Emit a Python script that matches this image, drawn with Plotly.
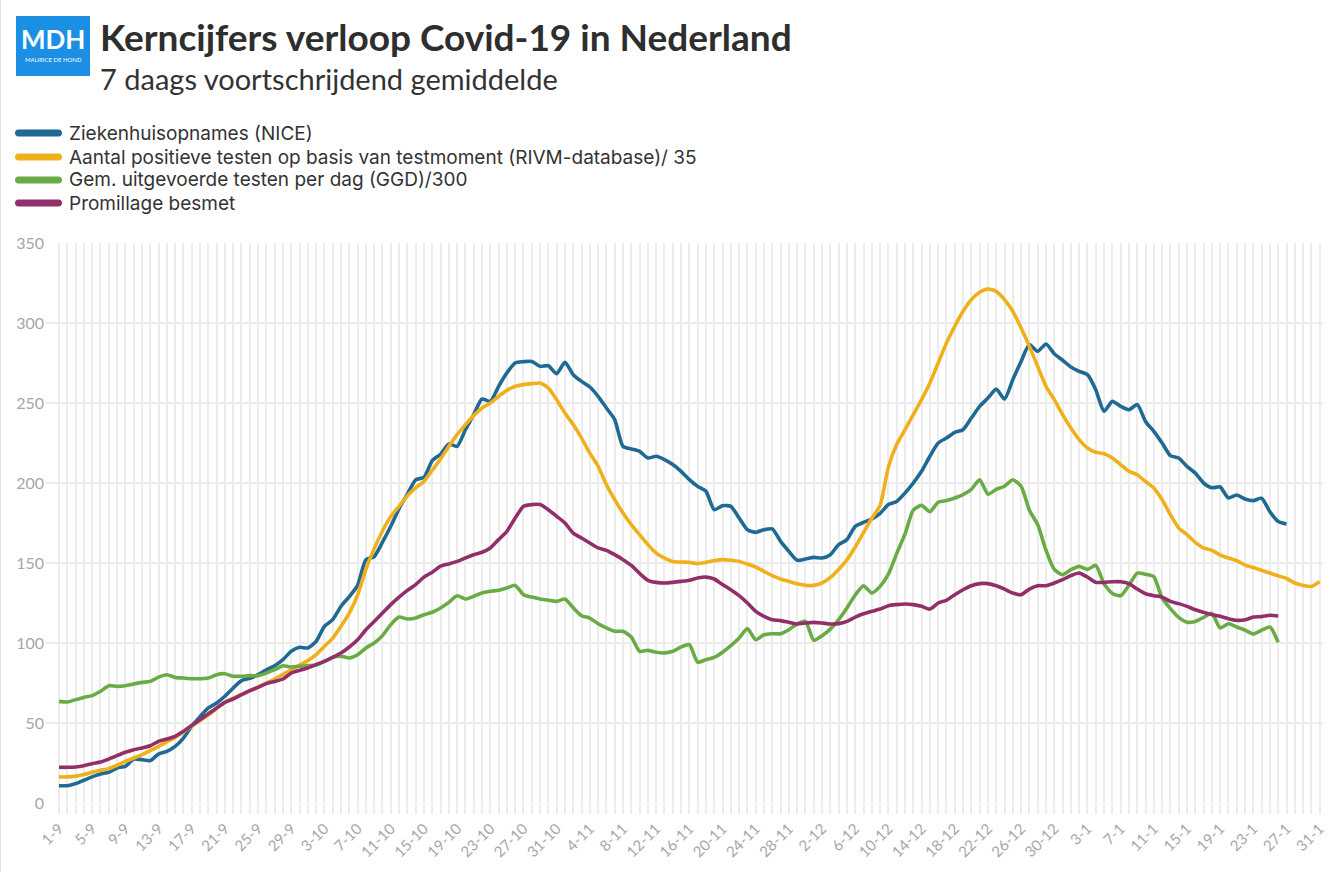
import datetime
import plotly.graph_objects as go

# ---------------- data ----------------
start = datetime.date(2020, 9, 1)
categories = [f"{(start + datetime.timedelta(days=i)).day}-{(start + datetime.timedelta(days=i)).month}" for i in range(153)]
tick_labels = [c if i % 4 == 0 else "" for i, c in enumerate(categories)]

ziekenhuis = [10.8, 10.8, 12.1, 14.2, 16.3, 18.1, 19.2, 21.9, 22.9, 27.5,
              27.1, 26.5, 30.6, 32.3, 35.4, 40.6, 48, 54, 59.4, 62.5,
              66.7, 71.9, 76.5, 78, 80.2, 83.3, 85.8, 89.6, 94.8, 97.3,
              96.9, 101, 110.4, 114.6, 123, 129, 136, 152, 154, 163,
              173, 184, 193, 202, 203.5, 214, 218, 224.4, 222.9, 233.3,
              242.7, 252.5, 251, 260.4, 268.8, 275, 275.8, 276, 272.9, 273.3,
              268.3, 275.4, 267.7, 263.5, 260, 254.2, 246.9, 239.6, 222.9, 221.3,
              219.8, 215.6, 216.7, 214.6, 211.5, 207.3, 202.1, 197.9, 194.8, 183.3,
              185.8, 185.4, 178.1, 170.8, 169.2, 170.8, 171.3, 163.5, 157.3, 151.7,
              152.5, 153.5, 153.1, 155.2, 161.5, 164.6, 172.9, 175.4, 177.5, 181,
              186.5, 188.5, 193.7, 200, 207.3, 216.7, 225, 228.1, 231.7, 233.3,
              240.6, 247.9, 253.1, 258.7, 252.5, 264.6, 276, 286.5, 282.3, 286.9,
              280.8, 276.7, 272.5, 269.8, 267.7, 258.3, 244.8, 251, 247.9, 245.8,
              249, 238.5, 232.3, 225, 217.1, 215.6, 210.4, 206.2, 200, 197,
              197.5, 190.6, 192.5, 190, 189, 190.5, 182, 176, 174.4]

positief = [16.3, 16.3, 16.8, 17.8, 19.2, 20.4, 21.5, 23.6, 26, 28.1,
            30.2, 32.7, 35.4, 38.2, 41, 44.4, 48, 51.5, 55, 59,
            63, 65.5, 67.7, 70.1, 72.5, 75, 77.5, 80.4, 83.3, 86.2,
            89, 92.7, 98, 103, 110.4, 118.7, 130, 146, 159, 170,
            179, 185.5, 192, 197, 201, 208, 215, 222.9, 230.2, 236.5,
            242.1, 246.9, 250, 254.2, 257.9, 260.4, 261.5, 262.1, 262.5, 259.4,
            252.1, 243.7, 236.5, 228.1, 218.7, 210.4, 199, 189.6, 181.2, 174,
            167.7, 161.5, 156.2, 153.1, 151, 150.6, 150.4, 149.6, 150.4, 151.5,
            152.1, 151.7, 151, 149.4, 147.5, 144.8, 142.1, 140, 138.5, 137,
            136, 136, 137.5, 141, 146, 152, 160, 169, 178, 186,
            210, 224, 233.3, 242.7, 252.1, 262.5, 275, 287.5, 297.9, 307.3,
            314.6, 319.2, 321.2, 319.8, 314.6, 307.3, 296.9, 285.4, 272.9, 260.4,
            252.1, 242.7, 234.4, 227.1, 221.9, 219.2, 218.3, 215.6, 211.5, 207.3,
            205.2, 201, 196.9, 189.6, 180.2, 171.9, 167.7, 162.9, 159.4, 157.9,
            155, 153.1, 151.5, 148.7, 147.2, 145.4, 143.7, 142, 140.3, 137.5,
            136, 135.4, 138.3]

testen = [63.5, 63.1, 64.6, 66, 67.1, 69.8, 73.3, 72.9, 73.3, 74.4,
          75.4, 76, 78.7, 80.2, 78.5, 78.1, 77.7, 77.7, 78.1, 80.2,
          80.8, 79.2, 79.2, 79.6, 79.6, 81.2, 83.3, 85.8, 85, 85.4,
          85.8, 86.2, 88.5, 91, 91.7, 90.6, 92.7, 96.9, 100, 104.6,
          111.5, 116.2, 115, 115.6, 117.7, 119.2, 121.9, 125.4, 129.5, 127.5,
          129.2, 131.3, 132.3, 133, 134.4, 136, 130.2, 128.7, 127.5, 126.7,
          126, 127.5, 122, 117, 115.6, 112, 109.4, 107.3, 107.3, 103.8,
          94.8, 95.4, 94.2, 93.8, 94.8, 97.5, 99, 88, 89.6, 91,
          94.2, 98.3, 103.1, 109, 102, 105.2, 105.8, 105.8, 108.3, 112,
          113.5, 101.7, 104.6, 108.7, 114.6, 121.9, 130, 135.8, 131.2, 135.4,
          143, 156, 168, 183, 186, 182, 188, 189, 190.6, 192.7,
          196, 202, 193, 196, 198, 202, 198, 183, 174, 158,
          146, 142.7, 145.8, 147.9, 146, 148.5, 137, 131, 129.5, 136,
          143.7, 143, 141.5, 128, 121.5, 116, 113, 113.5, 116, 118.5,
          109.4, 112, 110, 108, 105.6, 108, 110, 100.5]

promillage = [22.3, 22.3, 22.5, 23.3, 24.6, 25.6, 27.5, 29.6, 31.7, 33.3,
              34.4, 35.8, 38.5, 40, 41.7, 44.8, 48.5, 52, 55.8, 59.4,
              62.9, 65, 67.7, 70.2, 72.3, 74.6, 76, 77.5, 81.2, 82.9,
              84.4, 86.5, 88.5, 91, 93.7, 97.5, 102, 108.3, 113.5, 118.7,
              124, 128.7, 132.9, 136.5, 141.2, 144.2, 148, 149.4, 151, 153.1,
              155.2, 156.7, 159.4, 164.6, 169.8, 178.1, 185.4, 186.5, 186.5, 183.3,
              179.2, 175, 168.7, 165.6, 162.5, 159.4, 157.9, 155.2, 152.1, 148.5,
              143.5, 139.2, 137.9, 137.5, 137.9, 138.5, 139.2, 140.6, 141.2, 140,
              136.5, 133.3, 129.6, 125, 119.8, 116.7, 114.6, 114, 112.9, 111.9,
              112.5, 112.9, 112.5, 111.9, 112.1, 113.5, 116.2, 118.3, 119.8, 121.2,
              123.3, 124, 124.4, 124, 122.9, 121.2, 125, 126.7, 130.2, 133.3,
              135.8, 137.1, 137.1, 135.8, 133.7, 131.2, 130.2, 133.7, 135.8, 135.8,
              137.5, 139.6, 142.1, 143.7, 141.2, 137.9, 137.9, 138.3, 138.3, 137.1,
              133.7, 130.8, 129.6, 128.7, 126, 124.6, 122.9, 120.8, 119.2, 117.7,
              116.7, 115.2, 114.2, 114.5, 116.2, 116.5, 117.3, 116.9]

series_names = ["Ziekenhuisopnames (NICE)",
                "Aantal positieve testen op basis van testmoment (RIVM-database)/ 35",
                "Gem. uitgevoerde testen per dag (GGD)/300",
                "Promillage besmet"]
series_values = [ziekenhuis, positief, testen, promillage]
series_colors = ["#1f6993", "#f0b01c", "#6aab45", "#922f6a"]

y_ticks = [0, 50, 100, 150, 200, 250, 300, 350]

# ---------------- layout geometry (pixels) ----------------
W, H = 1341, 872
L, R, T, B = 45, 18, 243, 69
PW, PH = W - L - R, H - T - B


def px(x):
    return (x - L) / PW


def py(y):
    return (H - B - y) / PH


FONT = "Lato"
LEGFONT = "Inter"
GRID = "#ececec"
TICKC = "#a6a6a6"

fig = go.Figure()
for name, vals, col in zip(series_names, series_values, series_colors):
    fig.add_trace(go.Scatter(
        x=categories[:len(vals)], y=vals, name=name, mode="lines",
        line=dict(color=col, width=3.6, shape="spline", smoothing=0.6),
        showlegend=False, hoverinfo="skip"))

annotations = [
    dict(text="<b>Kerncijfers verloop Covid-19 in Nederland</b>", x=px(98), y=py(36),
         xref="paper", yref="paper", xanchor="left", yanchor="middle", showarrow=False,
         font=dict(family=FONT, size=37, color="#2e2e2e")),
    dict(text="7 daags voortschrijdend gemiddelde", x=px(98), y=py(79),
         xref="paper", yref="paper", xanchor="left", yanchor="middle", showarrow=False,
         font=dict(family=FONT, size=29, color="#333333")),
    dict(text="<b>MDH</b>", x=px(53), y=py(39), xref="paper", yref="paper",
         xanchor="center", yanchor="middle", showarrow=False,
         font=dict(family=FONT, size=26, color="white")),
    dict(text="MAURICE DE HOND", x=px(53), y=py(59), xref="paper", yref="paper",
         xanchor="center", yanchor="middle", showarrow=False,
         font=dict(family=FONT, size=6, color="white")),
]

shapes = [
    dict(type="rect", xref="paper", yref="paper", x0=px(16), x1=px(90), y0=py(16), y1=py(76),
         fillcolor="#1b8fe4", line=dict(width=0), layer="above"),
    dict(type="line", xref="paper", yref="paper", x0=px(0.5), x1=px(0.5), y0=py(0), y1=py(H),
         line=dict(color="#e2e2e2", width=1)),
]

legend_rows = [133, 157, 180, 203]
for name, col, ry in zip(series_names, series_colors, legend_rows):
    annotations.append(dict(text=name, x=px(67), y=py(ry), xref="paper", yref="paper",
                            xanchor="left", yanchor="middle", showarrow=False,
                            font=dict(family=LEGFONT, size=19, color="#333333")))
    shapes.append(dict(type="path", xref="paper", yref="paper",
                       xsizemode="pixel", ysizemode="pixel",
                       xanchor=px(15), yanchor=py(ry),
                       path="M 3.5,-3.5 L 43.5,-3.5 C 48.2,-3.5 48.2,3.5 43.5,3.5 "
                            "L 3.5,3.5 C -1.2,3.5 -1.2,-3.5 3.5,-3.5 Z",
                       fillcolor=col, line=dict(width=0)))

fig.update_layout(
    width=W, height=H,
    margin=dict(l=L, r=R, t=T, b=B, pad=0),
    paper_bgcolor="white", plot_bgcolor="white",
    font=dict(family=FONT, color=TICKC),
    annotations=annotations, shapes=shapes,
    showlegend=False,
    xaxis=dict(type="category", categoryorder="array", categoryarray=categories,
               range=[-1.69, 152.4], tickmode="array", tickvals=categories, ticktext=tick_labels,
               tickangle=-45, showgrid=True, gridcolor=GRID, gridwidth=2,
               ticks="outside", ticklen=10, tickwidth=2, tickcolor=GRID,
               tickfont=dict(family=FONT, size=15, color=TICKC),
               showline=False, zeroline=False, fixedrange=True),
    yaxis=dict(range=[0, 350], tickmode="array", tickvals=y_ticks,
               showgrid=True, gridcolor=GRID, gridwidth=2,
               tickfont=dict(family=FONT, size=16, color=TICKC),
               ticks="", showline=False, zeroline=False, fixedrange=True),
)

fig.write_html("out.html", config={"displayModeBar": False})
